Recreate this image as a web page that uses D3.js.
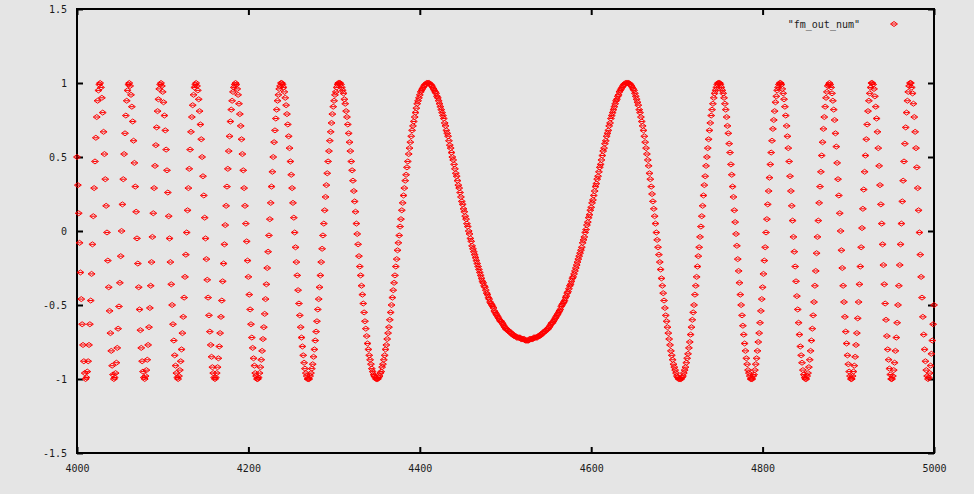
<!DOCTYPE html>
<html><head><meta charset="utf-8">
<script src="https://cdn.jsdelivr.net/npm/d3@7"></script>
<style>html,body{margin:0;padding:0;background:#e5e5e5;}svg{display:block;}</style>
</head><body>
<svg id="chart" width="974" height="494"></svg>
<script>
// ---- data ----
const seriesName = '"fm_out_num"';
const firstSample = 4000;           // sample index of fmOut[0]; one sample per unit
const xTicks = [4000, 4200, 4400, 4600, 4800, 5000];
const xTickLabels = ["4000", "4200", "4400", "4600", "4800", "5000"];
const yTicks = [-1.5, -1, -0.5, 0, 0.5, 1, 1.5];
const yTickLabels = ["-1.5", "-1", "-0.5", "0", "0.5", "1", "1.5"];
const fmOut = [
0.50,0.31,0.12,-0.08,-0.28,-0.46,-0.63,-0.77,-0.88,-0.96,
-1.00,-0.99,-0.95,-0.88,-0.77,-0.63,-0.47,-0.29,-0.09,0.10,
0.29,0.47,0.63,0.77,0.88,0.95,0.99,1.00,0.97,0.90,
0.80,0.67,0.52,0.35,0.17,-0.01,-0.20,-0.38,-0.54,-0.69,
-0.81,-0.91,-0.97,-1.00,-0.99,-0.96,-0.89,-0.79,-0.66,-0.51,
-0.35,-0.17,0.00,0.18,0.35,0.52,0.66,0.78,0.88,0.95,
0.99,1.00,0.98,0.92,0.84,0.74,0.61,0.46,0.30,0.13,
-0.05,-0.22,-0.38,-0.53,-0.67,-0.79,-0.88,-0.95,-0.99,-1.00,
-0.98,-0.94,-0.87,-0.77,-0.65,-0.52,-0.37,-0.21,-0.04,0.12,
0.29,0.44,0.58,0.70,0.81,0.89,0.96,0.99,1.00,0.98,
0.94,0.87,0.78,0.68,0.55,0.41,0.26,0.10,-0.05,-0.21,
-0.36,-0.50,-0.63,-0.74,-0.84,-0.91,-0.96,-0.99,-1.00,-0.98,
-0.94,-0.88,-0.80,-0.69,-0.58,-0.45,-0.31,-0.16,-0.01,0.14,
0.29,0.42,0.55,0.67,0.77,0.85,0.92,0.97,0.99,1.00,
0.98,0.95,0.89,0.81,0.72,0.62,0.50,0.37,0.24,0.09,
-0.05,-0.19,-0.33,-0.45,-0.57,-0.68,-0.77,-0.85,-0.92,-0.96,
-0.99,-1.00,-0.99,-0.96,-0.92,-0.86,-0.78,-0.69,-0.58,-0.47,
-0.34,-0.22,-0.09,0.04,0.17,0.30,0.42,0.54,0.64,0.74,
0.82,0.88,0.94,0.97,0.99,1.00,0.99,0.96,0.92,0.86,
0.79,0.71,0.62,0.52,0.41,0.29,0.17,0.05,-0.07,-0.20,
-0.31,-0.43,-0.53,-0.63,-0.72,-0.79,-0.86,-0.91,-0.96,-0.98,
-1.00,-1.00,-0.99,-0.96,-0.92,-0.87,-0.81,-0.73,-0.65,-0.56,
-0.46,-0.36,-0.25,-0.14,-0.03,0.08,0.19,0.30,0.40,0.50,
0.60,0.68,0.76,0.82,0.88,0.92,0.96,0.98,1.00,1.00,
0.99,0.97,0.94,0.90,0.85,0.79,0.72,0.64,0.56,0.47,
0.38,0.29,0.19,0.09,-0.01,-0.11,-0.21,-0.30,-0.40,-0.49,
-0.57,-0.65,-0.72,-0.78,-0.84,-0.89,-0.93,-0.96,-0.98,-1.00,
-1.00,-1.00,-0.98,-0.96,-0.93,-0.90,-0.85,-0.80,-0.74,-0.68,
-0.61,-0.53,-0.46,-0.38,-0.30,-0.21,-0.12,-0.03,0.05,0.14,
0.23,0.31,0.39,0.47,0.54,0.61,0.67,0.73,0.79,0.84,
0.88,0.92,0.94,0.97,0.99,1.00,1.00,1.00,0.99,0.97,
0.95,0.93,0.89,0.86,0.81,0.77,0.72,0.66,0.60,0.54,
0.47,0.41,0.34,0.27,0.20,0.13,0.05,-0.02,-0.09,-0.17,
-0.24,-0.30,-0.37,-0.43,-0.49,-0.55,-0.61,-0.66,-0.71,-0.76,
-0.80,-0.84,-0.87,-0.90,-0.93,-0.95,-0.97,-0.98,-0.99,-1.00,
-1.00,-1.00,-0.99,-0.98,-0.96,-0.95,-0.92,-0.90,-0.87,-0.84,
-0.80,-0.77,-0.73,-0.69,-0.65,-0.60,-0.55,-0.50,-0.45,-0.40,
-0.35,-0.30,-0.24,-0.19,-0.13,-0.08,-0.03,0.03,0.08,0.14,
0.19,0.24,0.29,0.34,0.38,0.43,0.47,0.52,0.56,0.60,
0.64,0.68,0.71,0.74,0.77,0.80,0.83,0.86,0.88,0.90,
0.92,0.94,0.95,0.96,0.97,0.98,0.99,0.99,1.00,1.00,
1.00,1.00,0.99,0.99,0.98,0.97,0.96,0.95,0.94,0.93,
0.91,0.90,0.88,0.86,0.84,0.82,0.80,0.78,0.76,0.73,
0.71,0.68,0.66,0.64,0.61,0.58,0.56,0.53,0.50,0.48,
0.45,0.42,0.39,0.37,0.34,0.31,0.29,0.26,0.23,0.20,
0.18,0.15,0.13,0.10,0.08,0.05,0.03,0.00,-0.02,-0.05,
-0.07,-0.10,-0.12,-0.14,-0.16,-0.18,-0.20,-0.22,-0.24,-0.26,
-0.28,-0.30,-0.32,-0.34,-0.35,-0.37,-0.38,-0.40,-0.42,-0.43,
-0.45,-0.46,-0.48,-0.49,-0.50,-0.51,-0.52,-0.54,-0.55,-0.56,
-0.57,-0.58,-0.59,-0.60,-0.61,-0.61,-0.62,-0.63,-0.64,-0.65,
-0.66,-0.66,-0.67,-0.67,-0.68,-0.68,-0.69,-0.69,-0.70,-0.70,
-0.71,-0.71,-0.71,-0.72,-0.72,-0.72,-0.72,-0.72,-0.73,-0.73,
-0.73,-0.73,-0.73,-0.74,-0.74,-0.74,-0.74,-0.74,-0.73,-0.73,
-0.73,-0.73,-0.73,-0.72,-0.72,-0.72,-0.72,-0.72,-0.71,-0.71,
-0.71,-0.70,-0.70,-0.69,-0.69,-0.68,-0.68,-0.67,-0.67,-0.66,
-0.66,-0.65,-0.64,-0.63,-0.62,-0.62,-0.61,-0.60,-0.59,-0.58,
-0.57,-0.56,-0.55,-0.54,-0.53,-0.51,-0.50,-0.49,-0.48,-0.47,
-0.45,-0.44,-0.42,-0.41,-0.39,-0.37,-0.36,-0.34,-0.32,-0.31,
-0.29,-0.27,-0.25,-0.23,-0.21,-0.19,-0.17,-0.15,-0.13,-0.11,
-0.08,-0.06,-0.04,-0.01,0.01,0.04,0.06,0.09,0.11,0.14,
0.16,0.19,0.21,0.24,0.27,0.30,0.32,0.35,0.37,0.40,
0.43,0.45,0.48,0.51,0.54,0.56,0.59,0.61,0.64,0.66,
0.68,0.71,0.73,0.76,0.78,0.80,0.82,0.84,0.86,0.88,
0.89,0.91,0.92,0.94,0.95,0.96,0.97,0.98,0.99,0.99,
1.00,1.00,1.00,1.00,1.00,0.99,0.99,0.98,0.97,0.96,
0.95,0.93,0.91,0.89,0.87,0.85,0.82,0.80,0.77,0.74,
0.71,0.68,0.64,0.60,0.56,0.52,0.48,0.44,0.39,0.35,
0.30,0.25,0.20,0.15,0.10,0.05,-0.01,-0.06,-0.11,-0.16,
-0.21,-0.26,-0.32,-0.37,-0.42,-0.47,-0.52,-0.57,-0.61,-0.65,
-0.69,-0.73,-0.77,-0.81,-0.84,-0.87,-0.90,-0.92,-0.94,-0.96,
-0.98,-0.99,-1.00,-1.00,-1.00,-1.00,-0.99,-0.98,-0.96,-0.94,
-0.92,-0.89,-0.86,-0.83,-0.79,-0.75,-0.70,-0.65,-0.60,-0.55,
-0.50,-0.43,-0.37,-0.31,-0.24,-0.17,-0.11,-0.04,0.03,0.10,
0.17,0.24,0.31,0.37,0.44,0.50,0.56,0.62,0.68,0.73,
0.78,0.82,0.86,0.90,0.93,0.95,0.97,0.99,1.00,1.00,
1.00,0.99,0.97,0.95,0.93,0.90,0.86,0.82,0.77,0.71,
0.66,0.59,0.53,0.45,0.38,0.30,0.23,0.14,0.06,-0.02,
-0.10,-0.19,-0.27,-0.35,-0.43,-0.50,-0.57,-0.64,-0.70,-0.76,
-0.81,-0.86,-0.90,-0.94,-0.96,-0.98,-1.00,-1.00,-1.00,-0.98,
-0.97,-0.94,-0.90,-0.86,-0.81,-0.75,-0.69,-0.62,-0.54,-0.46,
-0.38,-0.29,-0.20,-0.11,-0.01,0.08,0.18,0.27,0.36,0.45,
0.53,0.61,0.69,0.75,0.81,0.87,0.91,0.95,0.97,0.99,
1.00,1.00,0.99,0.96,0.93,0.89,0.84,0.78,0.71,0.64,
0.56,0.47,0.37,0.27,0.17,0.07,-0.04,-0.14,-0.24,-0.34,
-0.44,-0.53,-0.62,-0.70,-0.78,-0.84,-0.89,-0.94,-0.97,-0.99,
-1.00,-1.00,-0.98,-0.96,-0.92,-0.87,-0.81,-0.74,-0.66,-0.57,
-0.48,-0.37,-0.27,-0.15,-0.04,0.07,0.19,0.30,0.40,0.51,
0.60,0.69,0.77,0.84,0.90,0.94,0.98,0.99,1.00,0.99,
0.97,0.93,0.88,0.82,0.75,0.66,0.57,0.46,0.35,0.24,
0.12,0.00,-0.13,-0.25,-0.37,-0.48,-0.58,-0.68,-0.76,-0.84,
-0.90,-0.95,-0.98,-1.00,-1.00,-0.98,-0.95,-0.91,-0.85,-0.77,
-0.69,-0.59,-0.48,-0.36,-0.24,-0.11,0.02,0.15,0.28,0.40,
0.51,0.62,0.72,0.81,0.88,0.93,0.97,1.00,1.00,0.99,
0.96,0.91,0.84,0.76,0.67,0.56,0.44,0.31,0.18,0.05,
-0.09,-0.23,-0.36,-0.49,-0.60,-0.71,-0.80,-0.87,-0.93,-0.97,
-1.00,-1.00,-0.98,-0.94,-0.89,-0.81,-0.72,-0.62,-0.50,-0.37,
-0.23,-0.09,0.05,0.20,0.34,0.47,0.59,0.70,0.80,0.88,
0.94,0.98,1.00,1.00,0.97,0.93,0.86,0.77,0.67,0.56,
0.43,0.29,0.14,-0.01,-0.16,-0.31,-0.45,-0.58,-0.70,-0.80,
-0.88,-0.94,-0.98,-1.00,-0.99,-0.96,-0.91,-0.83,-0.74,-0.63,
-0.50
];

// ---- drawing ----
const svg = d3.select("#chart");
const plot = {left: 77, right: 934, top: 9, bottom: 453};
const x = d3.scaleLinear().domain([xTicks[0], xTicks[xTicks.length - 1]]).range([plot.left, plot.right]);
const y = d3.scaleLinear().domain([yTicks[0], yTicks[yTicks.length - 1]]).range([plot.bottom, plot.top]);
const font = "'DejaVu Sans Mono', 'Liberation Mono', monospace";
const tickLen = 6;
const textColor = "#1a1a1a";

svg.append("rect").attr("width", 974).attr("height", 494).attr("fill", "#e5e5e5");

function styleAxis(g) {
  g.select(".domain").remove();
  g.selectAll(".tick line").attr("stroke", "#000").attr("stroke-width", 2);
  g.selectAll(".tick text").attr("font-family", font).attr("font-size", 10).attr("fill", textColor);
}

svg.append("g").attr("transform", `translate(${plot.left},0)`)
  .call(d3.axisLeft(y).tickValues(yTicks).tickFormat((d, i) => yTickLabels[i]).tickSize(-tickLen).tickPadding(10))
  .call(styleAxis);
svg.append("g").attr("transform", `translate(${plot.right},0)`)
  .call(d3.axisRight(y).tickValues(yTicks).tickFormat("").tickSize(-tickLen))
  .call(styleAxis);
svg.append("g").attr("transform", `translate(0,${plot.bottom})`)
  .call(d3.axisBottom(x).tickValues(xTicks).tickFormat((d, i) => xTickLabels[i]).tickSize(-tickLen).tickPadding(12))
  .call(styleAxis);
svg.append("g").attr("transform", `translate(0,${plot.top})`)
  .call(d3.axisTop(x).tickValues(xTicks).tickFormat("").tickSize(-tickLen))
  .call(styleAxis);

svg.append("rect")
  .attr("x", plot.left).attr("y", plot.top)
  .attr("width", plot.right - plot.left).attr("height", plot.bottom - plot.top)
  .attr("fill", "none").attr("stroke", "#000").attr("stroke-width", 2);

const diamond = "M-3.5,0L0,-2.5L3.5,0L0,2.5ZM-2.5,0H2.5";
svg.append("g").selectAll("path")
  .data(fmOut)
  .join("path")
  .attr("transform", (d, i) => `translate(${x(firstSample + i)},${y(d)})`)
  .attr("d", diamond)
  .attr("fill", "none")
  .attr("stroke", "#ff0000")
  .attr("stroke-width", 1);

// legend
const legend = svg.append("g");
legend.append("text")
  .attr("x", 860).attr("y", 24).attr("dy", "0.35em")
  .attr("text-anchor", "end")
  .attr("font-family", font).attr("font-size", 10).attr("fill", textColor)
  .text(seriesName);
legend.append("path")
  .attr("transform", "translate(894,24)")
  .attr("d", diamond)
  .attr("fill", "none").attr("stroke", "#ff0000").attr("stroke-width", 1);
</script>
</body></html>
